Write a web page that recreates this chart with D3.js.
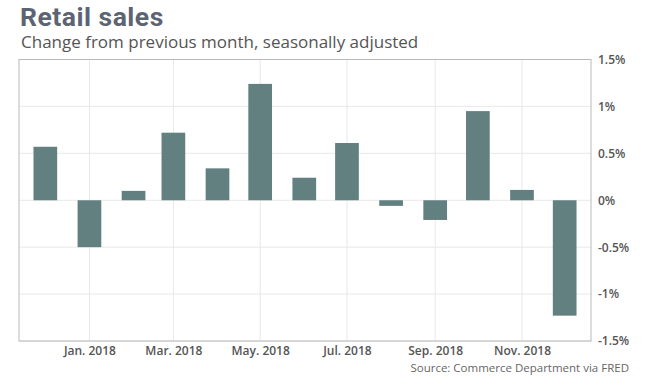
<!DOCTYPE html>
<html><head><meta charset="utf-8">
<script src="https://cdn.jsdelivr.net/npm/d3@7"></script>
<style>body{margin:0;background:#fff;}svg{display:block;}</style>
</head><body>
<svg id="chart" width="658" height="378"></svg>
<script>
const months = ["2017-12","2018-01","2018-02","2018-03","2018-04","2018-05","2018-06","2018-07","2018-08","2018-09","2018-10","2018-11","2018-12"];
const values = [0.57,-0.50,0.10,0.72,0.34,1.24,0.24,0.61,-0.06,-0.21,0.95,0.11,-1.23];
const yTicks = [1.5,1,0.5,0,-0.5,-1,-1.5];
const yTickLabels = ["1.5%","1%","0.5%","0%","-0.5%","-1%","-1.5%"];
const xTicks = ["2018-01","2018-03","2018-05","2018-07","2018-09","2018-11"];
const xTickLabels = ["Jan. 2018","Mar. 2018","May. 2018","Jul. 2018","Sep. 2018","Nov. 2018"];

const parse = d3.utcParse("%Y-%m");
const svg = d3.select("#chart");
const L = 19, R = 591, T = 59.5, B = 341;
const x = d3.scaleUtc().domain([new Date(Date.UTC(2017,10,12,12)), new Date(Date.UTC(2018,11,19,12))]).range([L, R]);
const y = d3.scaleLinear().domain([-1.5, 1.5]).range([B, T]);
const barW = 23.7;

// gridlines
svg.append("g").selectAll("line").data(yTicks).join("line")
  .attr("x1", L).attr("x2", R).attr("y1", d => y(d)).attr("y2", d => y(d))
  .attr("stroke", "#e8e8e8").attr("stroke-width", 1);
svg.append("g").selectAll("line").data(xTicks).join("line")
  .attr("x1", d => x(parse(d))).attr("x2", d => x(parse(d))).attr("y1", T).attr("y2", B)
  .attr("stroke", "#e8e8e8").attr("stroke-width", 1);

// bars
svg.append("g").selectAll("rect").data(months).join("rect")
  .attr("x", d => x(parse(d)) - barW/2)
  .attr("width", barW)
  .attr("y", (d,i) => y(Math.max(0, values[i])))
  .attr("height", (d,i) => Math.abs(y(values[i]) - y(0)))
  .attr("fill", "#62807f");

// frame
svg.append("rect").attr("x", L).attr("y", T).attr("width", R-L).attr("height", B-T)
  .attr("fill", "none").attr("stroke", "#b9b9b9").attr("stroke-width", 1);

// y axis labels (right)
const yAxis = d3.axisRight(y).tickValues(yTicks).tickFormat((d,i) => yTickLabels[i]).tickSize(0).tickPadding(7);
const ya = svg.append("g").attr("transform", `translate(${R},0)`).call(yAxis);
ya.select(".domain").remove();
ya.selectAll("text").attr("font-family", "Open Sans").attr("font-weight", "600")
  .attr("font-size", 12).attr("fill", "#555");

// x axis labels
const xAxis = d3.axisBottom(x).tickValues(xTicks.map(parse)).tickFormat((d,i) => xTickLabels[i]).tickSize(0).tickPadding(5);
const xa = svg.append("g").attr("transform", `translate(0,${B})`).call(xAxis);
xa.select(".domain").remove();
xa.selectAll("text").attr("font-family", "Open Sans").attr("font-weight", "600")
  .attr("font-size", 12).attr("fill", "#555");

// titles
svg.append("text").attr("x", 20).attr("y", 25.5).text("Retail sales")
  .attr("font-family", "Roboto").attr("font-weight", "700").attr("font-size", 26.5)
  .attr("letter-spacing", 0.5).attr("fill", "#5c6473");
svg.append("text").attr("x", 21).attr("y", 48).text("Change from previous month, seasonally adjusted")
  .attr("font-family", "Open Sans").attr("font-size", 17).attr("fill", "#555");
svg.append("text").attr("x", 629).attr("y", 372).attr("text-anchor", "end").text("Source: Commerce Department via FRED")
  .attr("font-family", "Open Sans").attr("font-size", 11.5).attr("fill", "#666");
</script>
</body></html>
